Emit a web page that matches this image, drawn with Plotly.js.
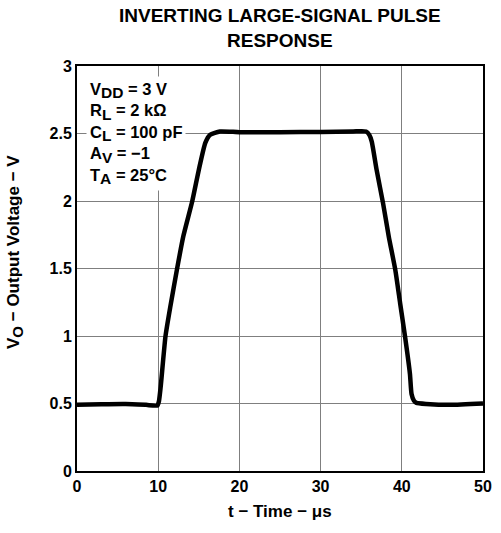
<!DOCTYPE html>
<html><head><meta charset="utf-8">
<script src="https://cdn.plot.ly/plotly-3.0.1.min.js"></script>
<style>body{margin:0;background:#fff}#c{width:501px;height:533px}</style>
</head><body><div id="c"></div>
<script>
const timeUs = [0, 3, 6, 8.5, 9.9, 10.1, 10.3, 10.9, 11.5, 12.3, 13.1, 14.2, 15.0, 15.8, 16.4, 17.6, 20, 25, 30, 34, 35.6, 36.0, 36.3, 36.9, 37.7, 38.4, 39.2, 39.8, 40.4, 41.0, 41.2, 41.5, 41.8, 43, 46, 50];
const voltsV = [0.49, 0.495, 0.497, 0.49, 0.485, 0.52, 0.62, 1.0, 1.22, 1.49, 1.74, 2.0, 2.23, 2.43, 2.49, 2.515, 2.51, 2.51, 2.512, 2.515, 2.515, 2.49, 2.44, 2.23, 1.98, 1.735, 1.49, 1.24, 0.995, 0.72, 0.57, 0.52, 0.505, 0.497, 0.49, 0.50];
const xTicks = [0, 10, 20, 30, 40, 50];
const yTicks = [0, 0.5, 1, 1.5, 2, 2.5, 3];
const yTickText = ['0', '0.5', '1', '1.5', '2', '2.5', '3'];
const sub = (s, px) => '<sub><span style="font-size:' + px + 'px">' + s + '</span></sub>';
const conditions = ['V' + sub('DD', 15.5) + ' = 3 V', 'R' + sub('L', 15.5) + ' = 2 kΩ', 'C' + sub('L', 15.5) + ' = 100 pF', 'A' + sub('V', 15.5) + ' = −1', 'T' + sub('A', 15.5) + ' = 25°C'];

const F = 'Liberation Sans, Arial, sans-serif';
const trace = {x: timeUs, y: voltsV, mode: 'lines', line: {color: '#000', width: 4.5, shape: 'spline', smoothing: 0.5}, hoverinfo: 'skip'};
const layout = {
  width: 501, height: 533,
  margin: {l: 76.5, r: 18, t: 66, b: 62},
  paper_bgcolor: '#fff', plot_bgcolor: '#fff',
  showlegend: false,
  font: {family: F, color: '#000'},
  xaxis: {range: [0, 50], tickvals: xTicks, ticktext: xTicks.map(v => '<b>' + v + '</b>'), ticks: '', showgrid: true, gridcolor: '#7f7f7f', gridwidth: 1, zeroline: false, showline: true, linecolor: '#000', linewidth: 2, mirror: true, tickfont: {family: F, size: 16}, fixedrange: true},
  yaxis: {range: [0, 3], tickvals: yTicks, ticktext: yTickText.map(v => '<b>' + v + '</b>'), ticks: '', showgrid: true, gridcolor: '#7f7f7f', gridwidth: 1, zeroline: false, showline: true, linecolor: '#000', linewidth: 2, mirror: true, tickfont: {family: F, size: 16}, fixedrange: true},
  annotations: [
    {xref: 'paper', yref: 'paper', x: 0.5, y: 1.0926, xanchor: 'center', yanchor: 'middle', showarrow: false, text: '<b>INVERTING LARGE-SIGNAL PULSE<br>RESPONSE</b>', font: {family: F, size: 19}},
    {xref: 'paper', yref: 'paper', x: 0.5, y: -0.101, xanchor: 'center', yanchor: 'middle', showarrow: false, text: '<b>t − Time − μs</b>', font: {family: F, size: 17}},
    {xref: 'paper', yref: 'paper', x: -0.151, y: 0.54, text: '<b>V' + sub('O', 15) + ' − Output Voltage − V</b>', textangle: -90, showarrow: false, font: {family: F, size: 17}, xanchor: 'center', yanchor: 'middle'},
    {xref: 'paper', yref: 'paper', x: 0.022, y: 0.975, xanchor: 'left', yanchor: 'top', align: 'left', showarrow: false, bgcolor: '#fff', borderpad: 3, text: '<b>' + conditions.join('<br>') + '</b>', font: {family: F, size: 16.5}}
  ]
};
Plotly.newPlot('c', [trace], layout, {staticPlot: true, displayModeBar: false});
</script></body></html>
